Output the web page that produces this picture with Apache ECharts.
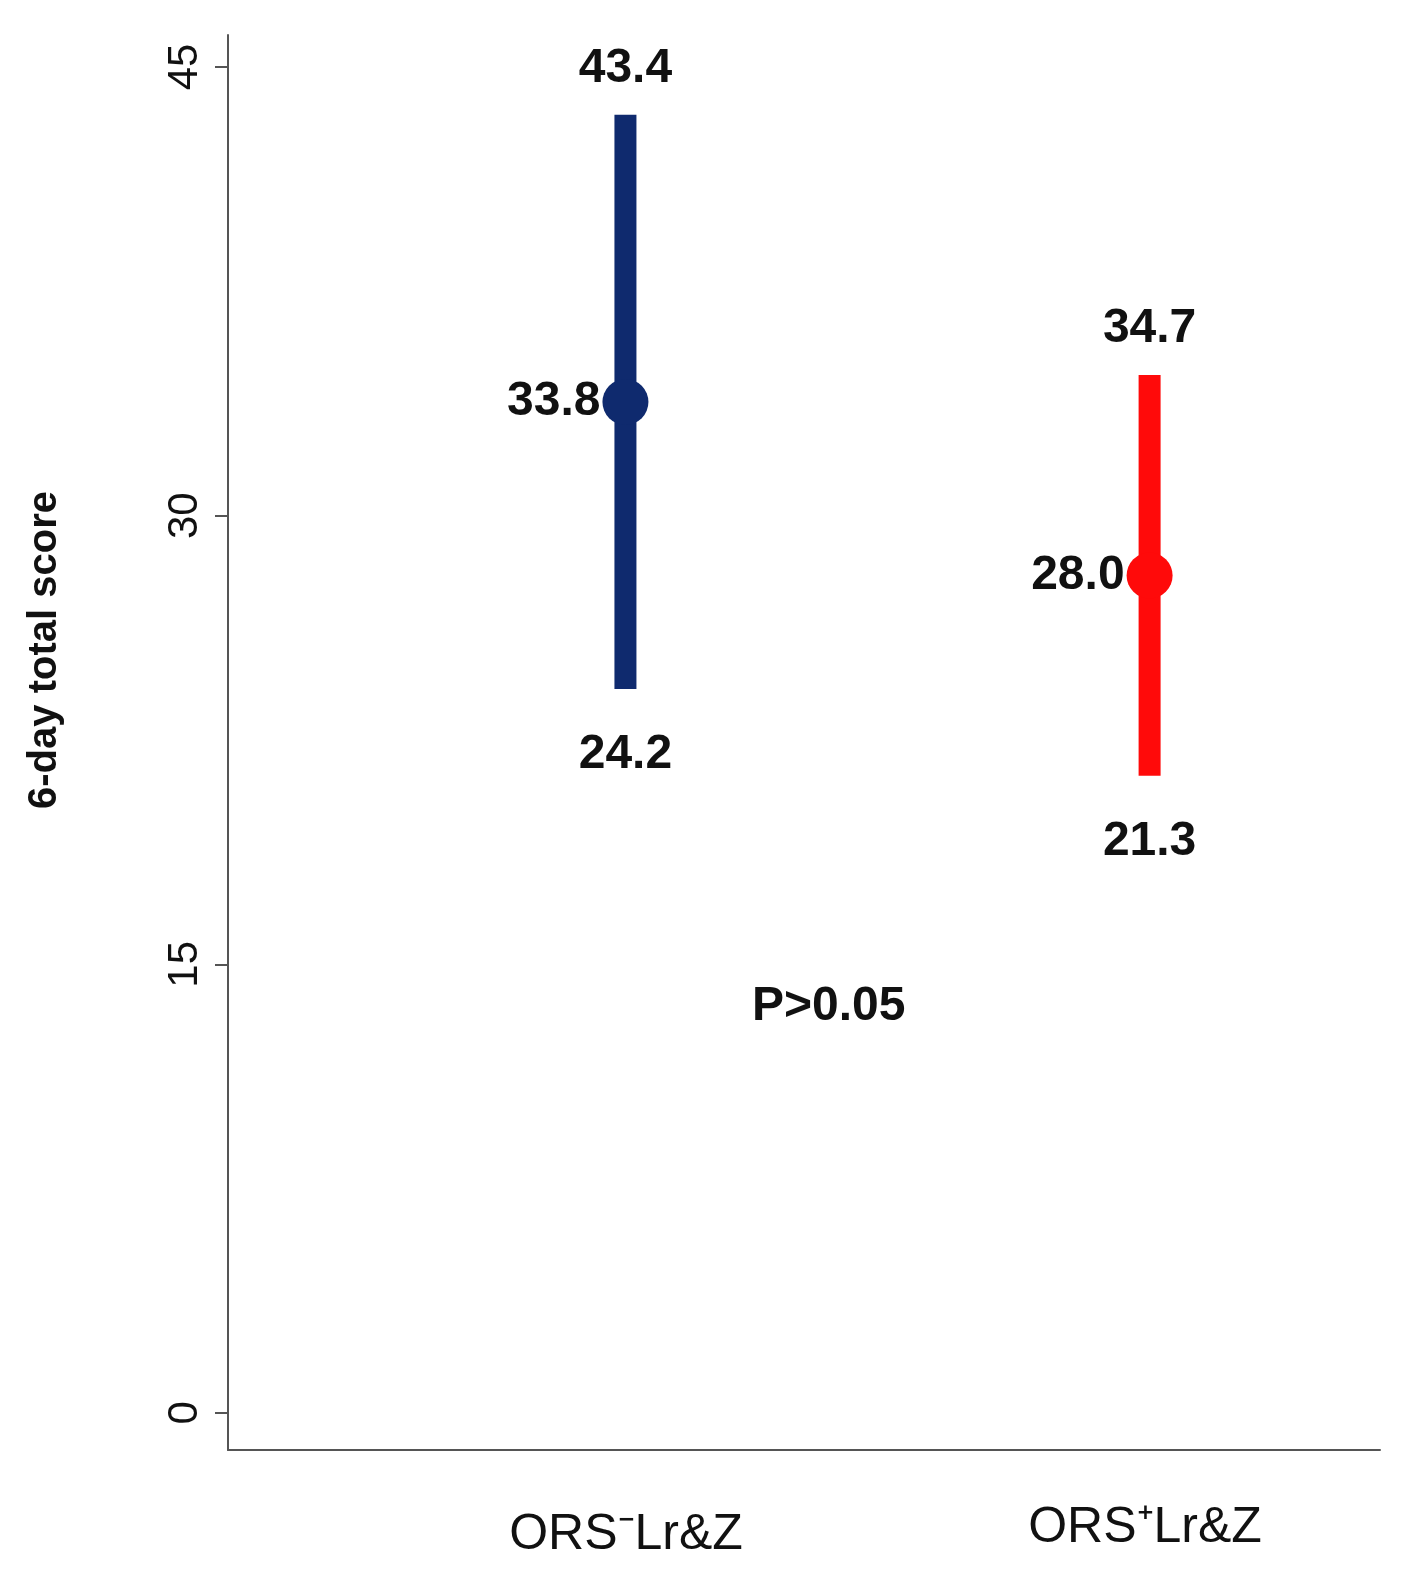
<!DOCTYPE html>
<html><head><meta charset="utf-8">
<script src="https://cdn.jsdelivr.net/npm/echarts@6/dist/echarts.min.js"></script>
<style>html,body{margin:0;padding:0;background:#fff}#c{width:1408px;height:1582px}</style>
</head><body><div id="c"></div>
<script>
const categories = ['ORS⁻Lr&Z', 'ORS⁺Lr&Z'];
const catPos = [0.345, 0.80];
const means = [33.8, 28.0];
const lows = [24.2, 21.3];
const highs = [43.4, 34.7];
const colors = ['#0f2a6e', '#ff0a0a'];
const yTicks = [0, 15, 30, 45];

const font = {fontFamily: 'Liberation Sans, Arial', fontWeight: 'bold', color: '#111'};
const series = [];
categories.forEach((c, i) => {
  series.push({type: 'line', data: [[catPos[i], lows[i]], [catPos[i], highs[i]]], symbol: 'none',
    lineStyle: {color: colors[i], width: 22, cap: 'butt'}, silent: true, z: 2});
  series.push({type: 'scatter', data: [[catPos[i], means[i]]], symbolSize: 46, itemStyle: {color: colors[i], opacity: 1},
    label: {show: true, position: 'left', distance: 2, formatter: means[i].toFixed(1), fontSize: 48, ...font}, z: 3});
  series.push({type: 'scatter', data: [[catPos[i], highs[i]]], symbolSize: 0, itemStyle: {opacity: 1},
    label: {show: true, position: 'top', distance: 22, formatter: highs[i].toFixed(1), fontSize: 48, ...font}});
  series.push({type: 'scatter', data: [[catPos[i], lows[i]]], symbolSize: 0, itemStyle: {opacity: 1},
    label: {show: true, position: 'bottom', distance: 42, formatter: lows[i].toFixed(1), fontSize: 48, ...font}});
});
const chart = echarts.init(document.getElementById('c'));
chart.setOption({
  animation: false,
  grid: {left: 228, right: 28, top: 35, bottom: 132, containLabel: false},
  xAxis: {type: 'value', min: 0, max: 1, axisLine: {onZero: false, lineStyle: {color: '#555', width: 2}},
    axisTick: {show: false}, axisLabel: {show: false}, splitLine: {show: false}},
  yAxis: {type: 'value', min: -1.24, max: 46.07, interval: 15,
    axisLine: {show: true, lineStyle: {color: '#555', width: 2}},
    axisTick: {show: true, length: 13, lineStyle: {color: '#555', width: 2}, customValues: yTicks},
    axisLabel: {rotate: 90, fontSize: 42, margin: 22, customValues: yTicks, fontFamily: 'Liberation Sans, Arial', color: '#111'},
    splitLine: {show: false}},
  series: series,
  graphic: [
    {type: 'text', x: 45, y: 650, rotation: Math.PI / 2, style: {text: '6-day total score', fontSize: 40, fontFamily: 'Liberation Sans, Arial', fontWeight: 'bold', fill: '#111', align: 'center', verticalAlign: 'middle'}},
    {type: 'text', left: 752, top: 983, style: {text: 'P>0.05', fontSize: 48, fontFamily: 'Liberation Sans, Arial', fontWeight: 'bold', fill: '#111'}},
    {type: 'text', x: 626, y: 1535, style: {text: categories[0], fontSize: 50, fontFamily: 'Liberation Sans, Arial', fill: '#111', align: 'center', verticalAlign: 'middle'}},
    {type: 'text', x: 1145, y: 1528, style: {text: categories[1], fontSize: 50, fontFamily: 'Liberation Sans, Arial', fill: '#111', align: 'center', verticalAlign: 'middle'}}
  ]
});
</script></body></html>
